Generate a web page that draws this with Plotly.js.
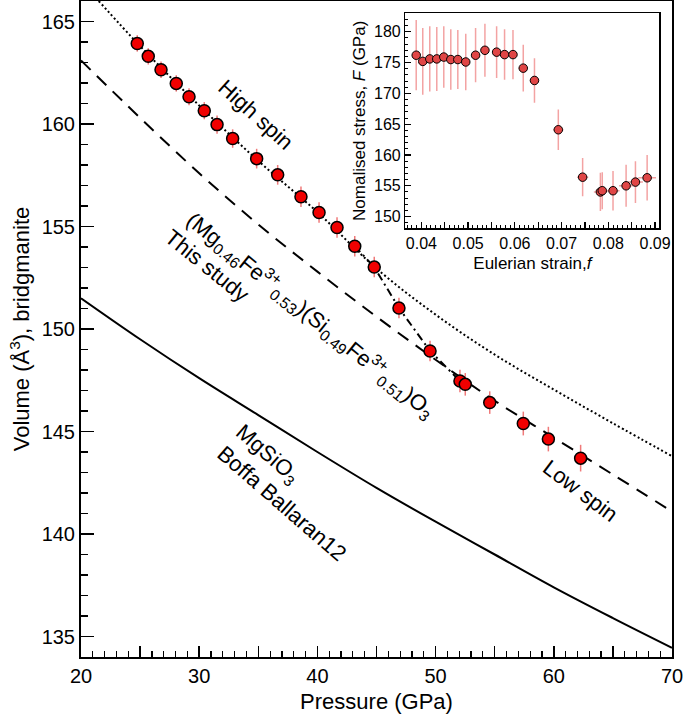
<!DOCTYPE html>
<html>
<head>
<meta charset="utf-8">
<script src="https://cdn.plot.ly/plotly-3.0.1.min.js"></script>
<style>
  body { margin: 0; background: #fff; }
  #plot { width: 685px; height: 724px; }
</style>
</head>
<body>
<div id="plot"></div>
<script>
// main panel: measured volumes
var pressure = [24.76, 25.69, 26.77, 28.06, 29.14, 30.43, 31.51, 32.83, 34.86, 36.64, 38.61, 40.14,
                41.66, 43.16, 44.81, 46.90, 49.53, 52.06, 52.51, 54.58, 57.42, 59.54, 62.27];
var volume = [163.93, 163.30, 162.65, 161.98, 161.33, 160.65, 159.97, 159.29, 158.31, 157.52, 156.45, 155.68,
              154.95, 154.04, 153.02, 151.02, 148.93, 147.46, 147.30, 146.41, 145.39, 144.63, 143.70];
var volumeErr = [0.4, 0.4, 0.4, 0.4, 0.42, 0.42, 0.45, 0.45, 0.48, 0.48, 0.5, 0.5,
                 0.5, 0.5, 0.5, 0.5, 0.5, 0.55, 0.55, 0.55, 0.58, 0.6, 0.65];

// EOS curves
var highSpinP = [21.5, 25, 30, 35, 40, 45, 50, 55, 60, 65, 70];
var highSpinV = [166.0, 163.8, 160.9, 158.2, 155.7, 152.95, 150.7, 148.75, 147.05, 145.4, 143.8];
var lowSpinP = [20, 25, 30, 35, 40, 45, 50, 55, 60, 65, 70];
var lowSpinV = [163.1, 160.3, 157.6, 155.1, 152.8, 150.6, 148.5, 146.5, 144.7, 142.9, 141.1];
var mgsio3P = [20, 25, 30, 35, 40, 45, 50, 55, 60, 65, 70];
var mgsio3V = [151.5, 149.5, 147.6, 145.8, 144.0, 142.25, 140.6, 139.0, 137.4, 135.9, 134.45];

// inset: normalised stress vs Eulerian strain
var strain = [0.0389, 0.0403, 0.0418, 0.0433, 0.0448, 0.0463, 0.0478, 0.0495, 0.0516, 0.0536, 0.0561, 0.0578,
              0.0596, 0.0618, 0.0642, 0.0693, 0.0745, 0.0783, 0.0787, 0.0810, 0.0838, 0.0858, 0.0883];
var strainErr = [0.0006, 0.0006, 0.0006, 0.0006, 0.0006, 0.0007, 0.0007, 0.0007, 0.0008, 0.0008, 0.0008, 0.0009,
                 0.0009, 0.0010, 0.0010, 0.0011, 0.0012, 0.0014, 0.0014, 0.0014, 0.0015, 0.0016, 0.0019];
var stress = [176.2, 175.2, 175.6, 175.6, 175.9, 175.5, 175.5, 175.1, 176.2, 177.0, 176.7, 176.3,
              176.3, 174.1, 172.1, 164.1, 156.4, 154.0, 154.2, 154.2, 155.0, 155.6, 156.3];
var stressErr = [5.7, 5.4, 5.3, 5.2, 5.0, 4.9, 4.8, 4.6, 4.4, 4.3, 4.2, 4.1,
                 4.0, 3.8, 3.6, 3.3, 3.1, 3.1, 3.0, 3.2, 3.4, 3.4, 3.7];

var xTickVals = [20, 25, 30, 35, 40, 45, 50, 55, 60, 65, 70];
var xTickText = ['20', ' ', '30', ' ', '40', ' ', '50', ' ', '60', ' ', '70'];
var insetTickVals = [0.04, 0.045, 0.05, 0.055, 0.06, 0.065, 0.07, 0.075, 0.08, 0.085, 0.09];
var insetTickText = ['0.04', ' ', '0.05', ' ', '0.06', ' ', '0.07', ' ', '0.08', ' ', '0.09'];

var font = 'Liberation Sans, Arial, Helvetica, sans-serif';

var highSpin = {
  x: highSpinP, y: highSpinV, mode: 'lines', line: {color: 'black', width: 2, dash: '2px,2.5px', shape: 'spline'},
  hoverinfo: 'skip'
};
var lowSpin = {
  x: lowSpinP, y: lowSpinV, mode: 'lines', line: {color: 'black', width: 2, dash: '13px,9px', shape: 'spline'},
  hoverinfo: 'skip'
};
var mgsio3 = {
  x: mgsio3P, y: mgsio3V, mode: 'lines', line: {color: 'black', width: 2, shape: 'spline'},
  hoverinfo: 'skip'
};
// guide through the spin transition points
var transition = {
  x: pressure.slice(13, 18), y: volume.slice(13, 18), mode: 'lines',
  line: {color: 'black', width: 2, dash: '8px,4px,2px,4px'}, hoverinfo: 'skip'
};
var points = {
  x: pressure, y: volume, mode: 'markers',
  marker: {color: '#f00000', size: 12, line: {color: 'black', width: 1.5}},
  error_y: {type: 'data', array: volumeErr, color: '#f07a7a', thickness: 1.5, width: 0}
};
var insetPoints = {
  x: strain, y: stress, mode: 'markers', xaxis: 'x2', yaxis: 'y2',
  marker: {color: '#e04646', size: 8.5, line: {color: 'black', width: 1}},
  error_y: {type: 'data', array: stressErr, color: '#f3a3a3', thickness: 1.5, width: 0},
  error_x: {type: 'data', array: strainErr, color: '#f3a3a3', thickness: 1.5, width: 0}
};

var data = [mgsio3, lowSpin, highSpin, transition, points, insetPoints];

var label = function (text, x, y, angle, extra) {
  var a = {text: text, x: x, y: y, xref: 'x', yref: 'y', showarrow: false, textangle: angle,
           font: {family: font, size: 22, color: 'black'}};
  return Object.assign(a, extra || {});
};

var layout = {
  width: 685, height: 724,
  margin: {l: 81, r: 13, t: 1, b: 67},
  paper_bgcolor: 'white', plot_bgcolor: 'white',
  showlegend: false,
  font: {family: font, color: 'black'},
  xaxis: {
    range: [20, 70], tickmode: 'array', tickvals: xTickVals, ticktext: xTickText,
    ticks: 'inside', ticklen: 11, tickwidth: 1.5, tickcolor: 'black',
    minor: {ticks: 'inside', ticklen: 6, tickwidth: 1.2, tickcolor: 'black', tickmode: 'linear', tick0: 20, dtick: 1},
    showline: true, linewidth: 2, linecolor: 'black', mirror: true,
    showgrid: false, zeroline: false, tickfont: {size: 20},
    title: {text: 'Pressure (GPa)', font: {size: 22}, standoff: 8}
  },
  yaxis: {
    range: [134, 166], tick0: 135, dtick: 5,
    ticks: 'inside', ticklen: 13, tickwidth: 1.5, tickcolor: 'black',
    minor: {ticks: 'inside', ticklen: 7, tickwidth: 1.2, tickcolor: 'black', dtick: 1},
    showline: true, linewidth: 2, linecolor: 'black', mirror: true,
    showgrid: false, zeroline: false, tickfont: {size: 20},
    title: {text: 'Volume (Å<sup>3</sup>), bridgmanite', font: {size: 22}, standoff: 6}
  },
  xaxis2: {
    domain: [0.549, 0.9785], anchor: 'y2', range: [0.0366, 0.0909],
    tickmode: 'array', tickvals: insetTickVals, ticktext: insetTickText,
    ticks: 'inside', ticklen: 6, tickwidth: 1.2, tickcolor: 'black',
    minor: {ticks: 'inside', ticklen: 3, tickwidth: 1, tickcolor: 'black', tickmode: 'linear', tick0: 0.036, dtick: 0.001},
    showline: true, linewidth: 1.5, linecolor: 'black', mirror: true,
    showgrid: false, zeroline: false, tickfont: {size: 16},
    title: {text: 'Eulerian strain,<i>f</i>', font: {size: 17}, standoff: 6}
  },
  yaxis2: {
    domain: [0.6535, 0.9812], anchor: 'x2', range: [148.1, 183], tick0: 150, dtick: 5,
    ticks: 'inside', ticklen: 6, tickwidth: 1.2, tickcolor: 'black',
    minor: {ticks: 'inside', ticklen: 3, tickwidth: 1, tickcolor: 'black', dtick: 1},
    showline: true, linewidth: 1.5, linecolor: 'black', mirror: true,
    showgrid: false, zeroline: false, tickfont: {size: 16},
    title: {text: 'Nomalised stress, <i>F</i> (GPa)', font: {size: 17}, standoff: 4}
  },
  annotations: [
    label('High spin', 34.78, 160.46, 42),
    label('(Mg<sub>0.46</sub>Fe<sup>3+</sup><sub>0.53</sub>)(Si<sub>0.49</sub>Fe<sup>3+</sup><sub>0.51</sub>)O<sub>3</sub>', 39.5, 150.67, 39),
    label('This study', 30.63, 153.1, 39),
    label('Low spin', 62.22, 142.11, 37),
    label('MgSiO<sub>3</sub><br>Boffa Ballaran12', 37.8, 142.0, 41, {align: 'left'})
  ]
};

Plotly.newPlot('plot', data, layout, {displayModeBar: false, staticPlot: true});
</script>
</body>
</html>
